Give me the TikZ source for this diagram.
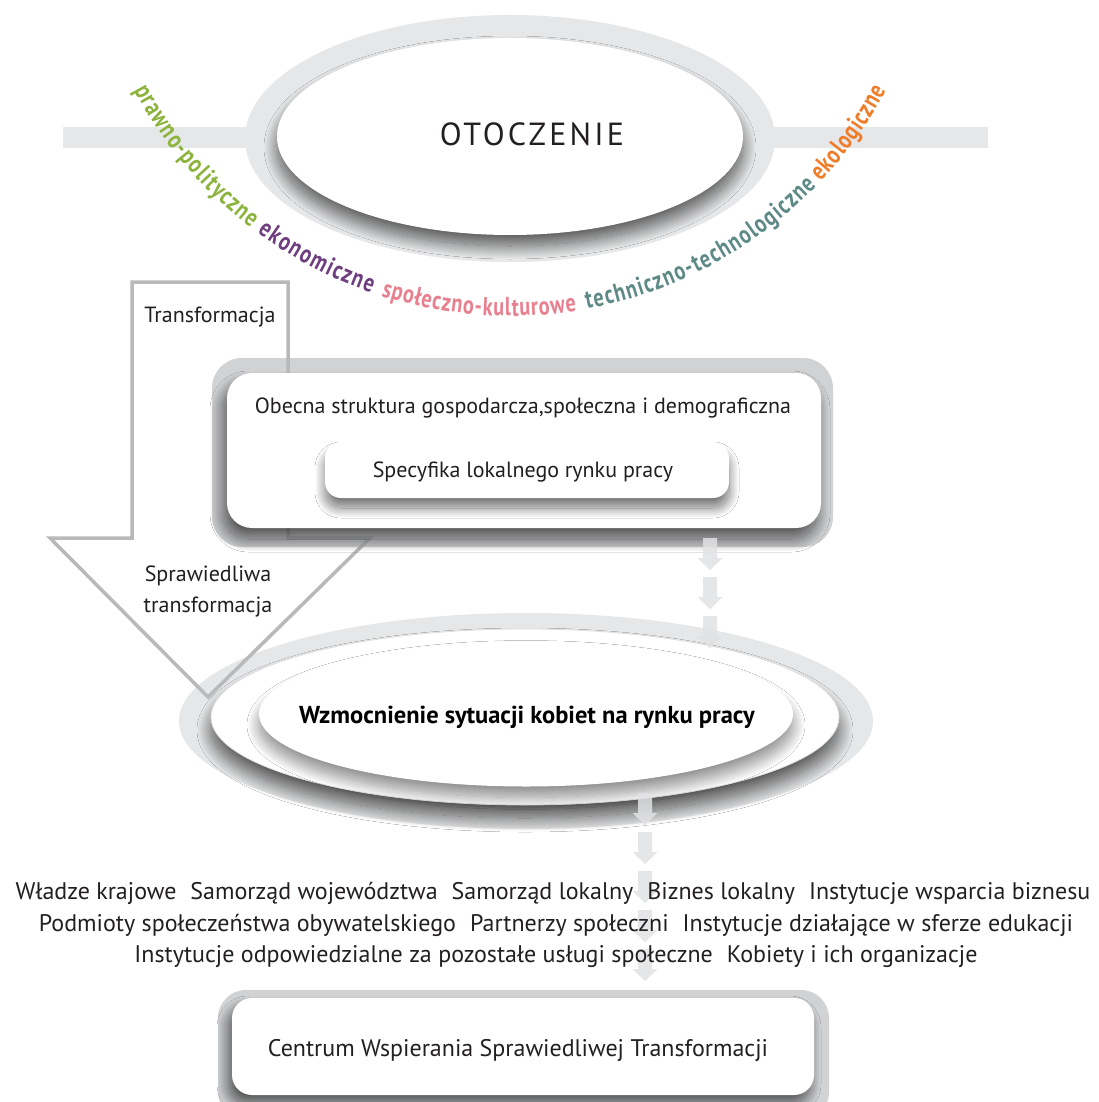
\documentclass[tikz,border=0pt]{standalone}
\usepackage{fontspec}
\setmainfont{PT Sans}
\newfontfamily\arcfam{PT Sans}[FakeStretch=0.78]
\usetikzlibrary{shapes.geometric,shadows.blur,decorations.text}
\definecolor{ring}{HTML}{E6E7E8}
\definecolor{framegray}{HTML}{D1D2D4}
\definecolor{txt}{HTML}{231F20}
\definecolor{cgreen}{HTML}{8CB33C}
\definecolor{cpurple}{HTML}{6E3E7F}
\definecolor{cpink}{HTML}{E9808F}
\definecolor{cteal}{HTML}{5D8A86}
\definecolor{corange}{HTML}{F07C28}
\definecolor{outline}{HTML}{B8B9BB}
\definecolor{arrowfill}{HTML}{E1E2E3}
\newcommand\arcfont{\arcfam\bfseries\fontsize{26}{30}\selectfont}
\newcommand\itemgap{\hspace{14pt}}
\newcommand\arcword[4]{% color, start, end, text
  \path[decorate,decoration={text along path,text align=fit to path,
    text={|\arcfont\color{#1}|#4}}]
    (510,110) ++(#2:426) arc[start angle=#2,end angle=#3,radius=426];}
\begin{document}
\begin{tikzpicture}[x=1pt,y=1pt,
  lighttext/.style={text=txt,font=\fontsize{22}{26}\selectfont,inner sep=0pt},
  bigtext/.style={text=txt,font=\fontsize{24}{28}\selectfont,inner sep=0pt},
  ringshape/.style={ellipse,fill=ring,inner sep=0pt,draw=none},
  whiteellipse/.style={ellipse,fill=white,inner sep=0pt},
  framebox/.style={rectangle,fill=framegray,inner sep=0pt},
  whitebox/.style={rectangle,fill=white,inner sep=0pt},
  softshadow/.style={blur shadow={shadow xshift=#1,shadow yshift=-11pt,shadow blur radius=13pt,shadow blur steps=30,shadow opacity=62}},
  softshadow/.default=0pt,
  flowarrow/.pic={\fill[arrowfill,opacity=.85] (-7,0) -- (7,0) -- (7,-20) -- (12.5,-20) -- (0,-32) -- (-12.5,-20) -- (-7,-20) -- cycle;}
]
\useasboundingbox (0,0) rectangle (1099,-1102);
\fill[white] (0,0) rectangle (1099,-1102);

% ---- top: environment ----
\fill[ring] (63,-127) rectangle (988,-148);
\node[ringshape,minimum width=530pt,minimum height=247pt] (topring) at (510,-138.5) {};
\node[whiteellipse,minimum width=466pt,minimum height=197pt,softshadow] (topell) at (510,-136.5) {};
\node[text=txt,font=\fontsize{32}{36}\selectfont\addfontfeature{LetterSpace=10},inner sep=0pt] (otoczenie) at (532,-134) {OTOCZENIE};

{\arcfont
\arcword{cgreen}{208}{232.5}{prawno-polityczne}
\arcword{cpurple}{233.6}{251}{ekonomiczne}
\arcword{cpink}{252.4}{279}{społeczno-kulturowe}
\arcword{cteal}{280.4}{316}{techniczno-technologiczne}
\arcword{corange}{316.8}{332}{ekologiczne}
}

% ---- bottom ellipse ring ----
\node[ringshape,minimum width=694pt,minimum height=216pt] (botring) at (526,-721) {};

% ---- structure box frame ----
\node[framebox,rounded corners=30pt,minimum width=621pt,minimum height=189pt] (frame1) at (522.5,-452.5) {};

% ---- transformation arrow ----
\draw[outline,line width=3.5pt,line join=miter]
  (132,-282) -- (288,-282) -- (288,-538) -- (370,-538) -- (208,-697) -- (50,-538) -- (132,-538) -- cycle;
\node[lighttext] (transf) at (210,-317) {Transformacja};
\node[lighttext,align=center,font=\fontsize{22}{31}\selectfont] (sprawtr) at (208,-591) {Sprawiedliwa\\transformacja};

% ---- structure box ----
\node[whitebox,rounded corners=25pt,minimum width=594pt,minimum height=155pt,softshadow=-4pt] (box1) at (524,-450.5) {};
\node[lighttext] (obecna) at (523,-408) {Obecna struktura gospodarcza,społeczna i demograficzna};
\node[whitebox,rounded corners=16pt,minimum width=404pt,minimum height=56pt,
  blur shadow={shadow xshift=0pt,shadow yshift=-10pt,shadow blur radius=10pt,shadow blur steps=25,shadow opacity=55}] (box2) at (527,-470) {};
\node[lighttext] (specyfika) at (523,-472) {Specyfika lokalnego rynku pracy};

% ---- central ellipse ----
\node[whiteellipse,draw=black!12,line width=0.8pt,minimum width=628pt,minimum height=176pt,
  blur shadow={shadow xshift=0pt,shadow yshift=-13pt,shadow blur radius=14pt,shadow blur steps=30,shadow opacity=65}] (midell) at (525,-717) {};
\node[whiteellipse,minimum width=534pt,minimum height=145pt,
  blur shadow={shadow xshift=0pt,shadow yshift=-11pt,shadow blur radius=12pt,shadow blur steps=25,shadow opacity=45}] (innell) at (526,-714) {};
\node[text=black,font=\fontsize{24.5}{28}\selectfont\bfseries,inner sep=0pt] (wzm) at (527,-717) {Wzmocnienie sytuacji kobiet na rynku pracy};

% ---- flow arrows ----
\pic (fa1) at (710,-538) {flowarrow};
\pic (fa2) at (710,-577) {flowarrow};
\pic (fa3) at (710,-616) {flowarrow};
\pic (fb1) at (645,-793) {flowarrow};
\pic (fb2) at (645,-832) {flowarrow};
\pic (fb3) at (645,-871) {flowarrow};
\pic (fb4) at (645,-910) {flowarrow};
\pic (fb5) at (645,-949) {flowarrow};

% ---- actors ----
\node[bigtext] (l1) at (553,-893) {Władze krajowe\itemgap Samorząd województwa\itemgap Samorząd lokalny\itemgap Biznes lokalny\itemgap Instytucje wsparcia biznesu};
\node[bigtext] (l2) at (556,-925) {Podmioty społeczeństwa obywatelskiego\itemgap Partnerzy społeczni\itemgap Instytucje działające w sferze edukacji};
\node[bigtext] (l3) at (556,-957) {Instytucje odpowiedzialne za pozostałe usługi społeczne\itemgap Kobiety i ich organizacje};

% ---- centre box ----
\node[framebox,rounded corners=28pt,minimum width=611pt,minimum height=130pt] (frame3) at (523.5,-1055) {};
\node[whitebox,rounded corners=20pt,minimum width=582pt,minimum height=97pt,
  blur shadow={shadow xshift=-4pt,shadow yshift=-9pt,shadow blur radius=11pt,shadow blur steps=25,shadow opacity=62}] (box3) at (523,-1046.5) {};
\node[bigtext] (centrum) at (518,-1050) {Centrum Wspierania Sprawiedliwej Transformacji};
\end{tikzpicture}
\end{document}
